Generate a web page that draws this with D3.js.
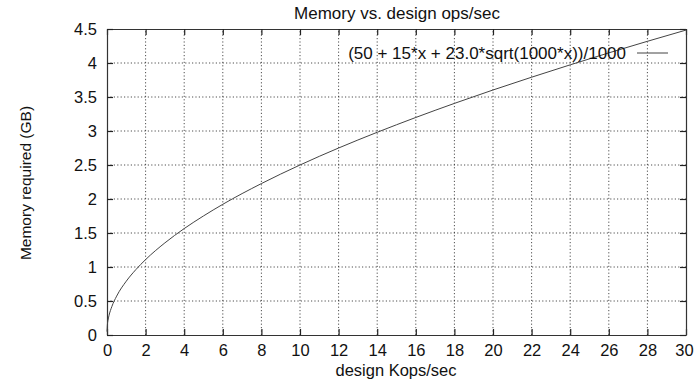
<!DOCTYPE html>
<html>
<head>
<meta charset="utf-8">
<script src="https://cdn.jsdelivr.net/npm/d3@7"></script>
<style>
  body { margin: 0; background: #fff; }
  text { font-family: "Liberation Sans", Arial, sans-serif; fill: #111; }
</style>
</head>
<body>
<div id="chart"></div>
<script>
const W = 694, H = 383;
const MARGIN = {LEFT: 107, RIGHT: 8, TOP: 29, DOWN: 48};
const FONT = "16.5px";

// values
const kops = [0, 0.02, 0.05, 0.1, 0.25, 0.5, 1, 1.5, 2, 3, 4, 5, 6, 8, 10, 12, 14, 16, 18, 20, 22, 24, 26, 28, 30];
const memGB = [0.05, 0.153, 0.214, 0.282, 0.417, 0.572, 0.792, 0.963, 1.109, 1.355, 1.565, 1.751, 1.922, 2.227, 2.50, 2.750, 2.981, 3.199, 3.406, 3.603, 3.791, 3.973, 4.149, 4.319, 4.484];
const xTickVals = [0, 2, 4, 6, 8, 10, 12, 14, 16, 18, 20, 22, 24, 26, 28, 30];
const yTickVals = [0, 0.5, 1, 1.5, 2, 2.5, 3, 3.5, 4, 4.5];
const legendLabel = "(50 + 15*x + 23.0*sqrt(1000*x))/1000";

const svg = d3.select("#chart").append("svg")
    .attr("width", W)
    .attr("height", H);

const x = d3.scaleLinear().domain([0, 30]).range([MARGIN.LEFT, W - MARGIN.RIGHT]);
const y = d3.scaleLinear().domain([0, 4.5]).range([H - MARGIN.DOWN, MARGIN.TOP]);

// grid
const grid = svg.append("g").attr("stroke", "#222").attr("stroke-width", 0.8).attr("stroke-dasharray", "1.2,2.2");
grid.selectAll(".gx").data(xTickVals.slice(1, -1)).enter().append("line")
    .attr("x1", d => x(d)).attr("x2", d => x(d))
    .attr("y1", y(0)).attr("y2", y(4.5));
grid.selectAll(".gy").data(yTickVals.slice(1, -1)).enter().append("line")
    .attr("x1", x(0)).attr("x2", x(30))
    .attr("y1", d => y(d)).attr("y2", d => y(d));

// axes, ticks inward on all sides
const xAxis = svg.append("g").attr("transform", `translate(0, ${y(0)})`)
    .call(d3.axisBottom(x).tickValues(xTickVals).tickSizeInner(-6).tickSizeOuter(0).tickPadding(9).tickFormat(d3.format("d")));
xAxis.selectAll(".tick text").filter(d => d === 30).attr("dx", "-2");
svg.append("g").attr("transform", `translate(0, ${y(4.5)})`)
    .call(d3.axisTop(x).tickValues(xTickVals).tickSizeInner(-6).tickSizeOuter(0).tickFormat(""));
svg.append("g").attr("transform", `translate(${x(0)}, 0)`)
    .call(d3.axisLeft(y).tickValues(yTickVals).tickSizeInner(-6).tickSizeOuter(0).tickPadding(10).tickFormat(d => d));
svg.append("g").attr("transform", `translate(${x(30)}, 0)`)
    .call(d3.axisRight(y).tickValues(yTickVals).tickSizeInner(-6).tickSizeOuter(0).tickFormat(""));

svg.selectAll(".domain").attr("stroke", "#333").attr("stroke-width", 1.2);
svg.selectAll(".tick line").attr("stroke", "#222").attr("stroke-width", 1.2);
svg.selectAll(".tick text").attr("font-size", FONT).attr("font-family", "Liberation Sans, Arial, sans-serif").attr("fill", "#111");

// curve
svg.append("path")
    .datum(kops.map((k, i) => [k, memGB[i]]))
    .attr("fill", "none")
    .attr("stroke", "#444")
    .attr("stroke-width", 1)
    .attr("d", d3.line().x(d => x(d[0])).y(d => y(d[1])).curve(d3.curveMonotoneX));

// legend
svg.append("text")
    .attr("x", 626).attr("y", 59)
    .attr("text-anchor", "end")
    .attr("font-size", "17px")
    .text(legendLabel);
svg.append("line")
    .attr("x1", 637).attr("x2", 668)
    .attr("y1", 53).attr("y2", 53)
    .attr("stroke", "#444").attr("stroke-width", 1);

// titles
svg.append("text")
    .attr("x", 397).attr("y", 19)
    .attr("text-anchor", "middle")
    .attr("font-size", "17px")
    .text("Memory vs. design ops/sec");
svg.append("text")
    .attr("x", 396).attr("y", 376)
    .attr("text-anchor", "middle")
    .attr("font-size", FONT)
    .text("design Kops/sec");
svg.append("text")
    .attr("transform", "translate(31, 183) rotate(-90)")
    .attr("text-anchor", "middle")
    .attr("font-size", "15.5px")
    .text("Memory required (GB)");
</script>
</body>
</html>
